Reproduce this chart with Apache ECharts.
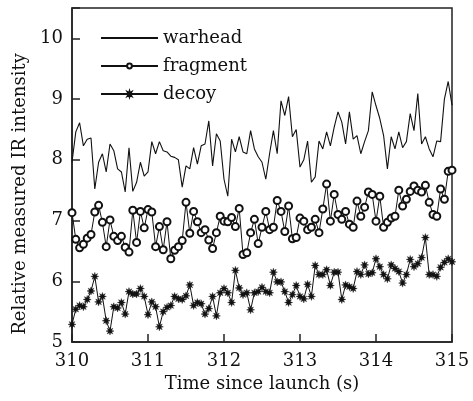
<!DOCTYPE html>
<html>
<head>
    <meta charset="utf-8">
    <title>IR intensity</title>
    <style>
        html, body { margin: 0; padding: 0; background: #fff; }
        #main { width: 473px; height: 401px; }
    </style>
</head>
<body>
    <div id="main"></div>
    <script src="https://cdn.jsdelivr.net/npm/echarts@6/dist/echarts.min.js"></script>
    <script>
        // samples every 0.05 s from 310 s to 315 s
        var startTime = 310;
        var step = 0.05;

        var warhead = [
            7.96, 8.46, 8.61, 8.23, 8.34, 8.36, 7.52, 7.96, 8.10, 7.80,
            8.26, 8.15, 7.85, 7.80, 7.47, 8.20, 7.48, 7.63, 7.96, 7.73,
            7.80, 8.30, 8.10, 8.30, 8.15, 8.13, 8.06, 8.04, 8.00, 7.55,
            7.90, 7.85, 8.20, 7.93, 8.23, 8.26, 8.64, 7.90, 8.43, 8.31,
            7.68, 7.40, 8.34, 8.13, 8.38, 8.13, 8.10, 8.48, 8.18, 8.05,
            7.96, 7.68, 8.10, 8.48, 8.10, 8.97, 8.73, 9.04, 8.38, 8.50,
            7.88, 8.00, 8.31, 7.63, 7.72, 8.31, 8.18, 8.46, 8.23, 8.54,
            8.79, 8.62, 8.26, 8.79, 8.34, 8.40, 8.10, 8.30, 8.48, 9.12,
            8.89, 8.68, 8.40, 7.85, 8.38, 8.18, 8.46, 8.20, 8.30, 8.76,
            8.48, 9.09, 8.26, 8.38, 8.18, 8.05, 8.31, 8.30, 9.00, 9.29,
            8.90
        ];
        var fragment = [
            7.13, 6.69, 6.55, 6.61, 6.71, 6.77, 7.14, 7.25, 6.97, 6.57,
            7.01, 6.74, 6.67, 6.74, 6.56, 6.48, 7.17, 6.64, 7.15, 6.88,
            7.18, 7.14, 6.57, 6.90, 6.52, 6.98, 6.37, 6.51, 6.57, 6.67,
            7.30, 6.79, 7.15, 6.98, 6.80, 6.85, 6.68, 6.54, 6.80, 7.07,
            6.99, 6.98, 7.05, 6.90, 7.20, 6.44, 6.47, 6.80, 7.02, 6.62,
            6.89, 7.15, 6.85, 6.89, 7.33, 7.15, 6.82, 7.24, 6.70, 6.72,
            7.04, 6.99, 6.85, 6.89, 7.02, 6.80, 7.19, 7.60, 6.99, 7.43,
            7.10, 7.02, 7.15, 6.94, 6.89, 7.32, 7.07, 7.22, 7.47, 7.43,
            6.99, 7.40, 6.89, 6.97, 7.04, 7.07, 7.50, 7.24, 7.35, 7.48,
            7.57, 7.50, 7.47, 7.58, 7.30, 7.10, 7.07, 7.52, 7.35, 7.81,
            7.83
        ];
        var decoy = [
            5.29, 5.54, 5.60, 5.58, 5.70, 5.84, 6.08, 5.66, 5.75, 5.35,
            5.18, 5.58, 5.56, 5.65, 5.46, 5.83, 5.79, 5.79, 5.88, 5.75,
            5.45, 5.66, 5.58, 5.25, 5.50, 5.57, 5.60, 5.75, 5.71, 5.70,
            5.76, 5.94, 5.60, 5.65, 5.63, 5.46, 5.55, 5.75, 5.43, 5.81,
            5.88, 5.81, 5.65, 6.18, 5.89, 5.78, 5.81, 5.53, 5.81, 5.83,
            5.90, 5.83, 5.81, 6.15, 5.99, 5.99, 5.83, 5.65, 5.78, 5.93,
            5.75, 5.71, 5.95, 5.75, 6.26, 6.11, 6.11, 6.19, 5.93, 6.15,
            6.15, 5.70, 5.94, 5.91, 5.88, 6.16, 6.11, 6.27, 6.12, 6.14,
            6.37, 6.24, 6.11, 6.04, 6.27, 6.21, 6.16, 5.97, 6.11, 6.36,
            6.24, 6.29, 6.39, 6.72, 6.11, 6.11, 6.08, 6.23, 6.31, 6.37,
            6.32
        ];

        var serifFont = 'DejaVu Serif';
        // eight-pointed star used as the decoy marker
        var starPath = 'path://M10 0 L11.72 5.84 L17.07 2.93 L14.16 8.28 L20 10 L14.16 11.72 L17.07 17.07 L11.72 14.16 L10 20 L8.28 14.16 L2.93 17.07 L5.84 11.72 L0 10 L5.84 8.28 L2.93 2.93 L8.28 5.84 Z';

        function toPairs(values) {
            return values.map(function (v, i) {
                return [+(startTime + i * step).toFixed(2), v];
            });
        }

        var chart = echarts.init(document.getElementById('main'));

        var option = {
            backgroundColor: '#fff',
            animation: false,
            grid: {
                left: 72,
                right: 21,
                top: 8,
                bottom: 59,
                show: true,
                borderColor: '#222',
                borderWidth: 1.5,
                backgroundColor: '#fff'
            },
            legend: {
                orient: 'vertical',
                left: 95,
                top: 24,
                itemWidth: 57,
                itemHeight: 6,
                itemGap: 10,
                textStyle: { fontFamily: serifFont, fontSize: 18, color: '#111' },
                data: [
                    { name: 'warhead', itemStyle: { opacity: 0 } },
                    'fragment',
                    'decoy'
                ]
            },
            xAxis: {
                type: 'value',
                min: 310,
                max: 315,
                interval: 1,
                name: 'Time since launch (s)',
                nameLocation: 'middle',
                nameGap: 30,
                nameTextStyle: { fontFamily: serifFont, fontSize: 18, color: '#111' },
                axisLine: { lineStyle: { color: '#222', width: 1.5 } },
                axisTick: { inside: true, length: 8, lineStyle: { color: '#222', width: 1.5 } },
                axisLabel: { fontFamily: serifFont, fontSize: 18, color: '#111', margin: 10 },
                splitLine: { show: false }
            },
            yAxis: {
                type: 'value',
                min: 5,
                max: 10.5,
                interval: 1,
                name: 'Relative measured IR intensity',
                nameLocation: 'middle',
                nameGap: 34,
                nameTextStyle: { fontFamily: serifFont, fontSize: 18, color: '#111', padding: [0, 38, 0, 0] },
                axisLine: { lineStyle: { color: '#222', width: 1.5 } },
                axisTick: { inside: true, length: 8, lineStyle: { color: '#222', width: 1.5 } },
                axisLabel: {
                    fontFamily: serifFont, fontSize: 18, color: '#111', margin: 9,
                    formatter: function (v) { return v % 1 === 0 ? String(v) : ''; }
                },
                splitLine: { show: false }
            },
            series: [{
                name: 'warhead',
                type: 'line',
                data: toPairs(warhead),
                symbol: 'none',
                lineStyle: { color: '#111', width: 1.1 },
                itemStyle: { color: '#111' }
            }, {
                name: 'fragment',
                type: 'line',
                data: toPairs(fragment),
                symbol: 'emptyCircle',
                symbolSize: 7,
                lineStyle: { color: '#111', width: 1 },
                itemStyle: { color: '#111', borderWidth: 0.7 }
            }, {
                name: 'decoy',
                type: 'line',
                data: toPairs(decoy),
                symbol: starPath,
                symbolSize: 8,
                lineStyle: { color: '#111', width: 1 },
                itemStyle: { color: '#111', borderColor: '#111', borderWidth: 0.4 }
            }]
        };

        chart.setOption(option);
    </script>
</body>
</html>
